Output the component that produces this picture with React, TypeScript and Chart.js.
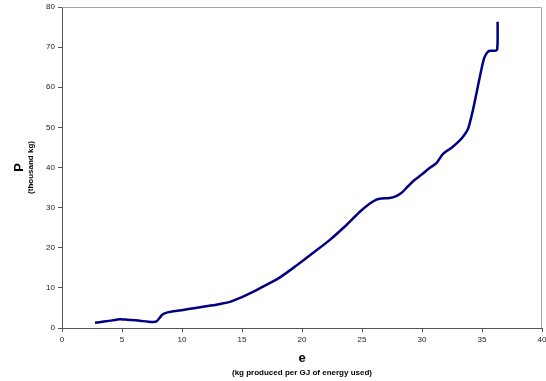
import React, { useEffect, useRef } from "react";
import { Chart, registerables } from "chart.js";

Chart.register(...registerables);

// Energy intensity e (kg produced per GJ) vs. cumulative production P (thousand kg)
const eValues = [
  2.75, 3.5, 4.2, 4.8, 5.3, 5.8, 6.5, 7.1, 7.6, 7.9, 8.1, 8.4, 8.8, 9.3, 10.1,
  11.0, 12.0, 13.2, 14.0, 15.0, 16.0, 16.75, 18.0, 19.6, 21.0, 22.3, 23.5,
  24.8, 25.6, 26.2, 26.6, 27.3, 27.8, 28.3, 28.7, 29.3, 30.0, 30.6, 31.2,
  31.75, 32.5, 33.0, 33.4, 33.8, 34.0, 34.25, 34.6, 35.0, 35.2, 35.5, 35.8,
  36.1, 36.25, 36.3, 36.3,
];
const pValues = [
  1.3, 1.6, 1.9, 2.2, 2.1, 2.0, 1.8, 1.6, 1.5, 1.7, 2.4, 3.4, 3.9, 4.2, 4.5,
  4.9, 5.4, 6.0, 6.5, 7.7, 9.1, 10.3, 12.3, 15.7, 18.9, 21.9, 25.1,
  28.9, 30.9, 32.0, 32.3, 32.4, 32.8, 33.7, 34.9, 36.7, 38.3, 39.8, 41.1,
  43.4, 45.0, 46.3, 47.6, 49.4, 51.3, 54.4, 59.4, 65.1, 67.4, 68.9, 69.1,
  69.1, 69.3, 71.5, 76.3,
];
const xTicks = [0, 5, 10, 15, 20, 25, 30, 35, 40];
const yTicks = [0, 10, 20, 30, 40, 50, 60, 70, 80];

const xTitle = "e";
const xSubtitle = "(kg produced per GJ of energy used)";
const yTitle = "P";
const ySubtitle = "(thousand kg)";

const FONT = "Arial, 'Liberation Sans', sans-serif";

export default function App() {
  const canvasRef = useRef<HTMLCanvasElement | null>(null);

  useEffect(() => {
    document.body.style.margin = "0";
    const canvas = canvasRef.current;
    if (!canvas) return;

    const points = eValues.map((e, i) => ({ x: e, y: pValues[i] }));

    const frameAndTitles = {
      id: "frameAndTitles",
      beforeDatasetsDraw(chart: any) {
        const { ctx, chartArea } = chart;
        ctx.save();
        ctx.strokeStyle = "#a6a6a6";
        ctx.lineWidth = 1;
        ctx.beginPath();
        ctx.moveTo(chartArea.left, chartArea.top + 0.5);
        ctx.lineTo(chartArea.right - 0.5, chartArea.top + 0.5);
        ctx.lineTo(chartArea.right - 0.5, chartArea.bottom);
        ctx.stroke();
        ctx.restore();
      },
      afterDraw(chart: any) {
        const { ctx, chartArea } = chart;
        const cx = (chartArea.left + chartArea.right) / 2;
        const cy = (chartArea.top + chartArea.bottom) / 2;
        ctx.save();
        ctx.fillStyle = "#000";
        ctx.textAlign = "center";
        ctx.textBaseline = "middle";
        ctx.font = `bold 13px ${FONT}`;
        ctx.fillText(xTitle, cx, 358);
        ctx.font = `bold 8px ${FONT}`;
        ctx.fillText(xSubtitle, cx, 373);

        ctx.translate(19, cy);
        ctx.rotate(-Math.PI / 2);
        ctx.font = `bold 13px ${FONT}`;
        ctx.fillText(yTitle, 0, 0);
        ctx.font = `bold 8px ${FONT}`;
        ctx.fillText(ySubtitle, 0, 12);
        ctx.restore();
      },
    };

    const chart = new Chart(canvas, {
      type: "scatter",
      data: {
        datasets: [
          {
            data: points,
            showLine: true,
            borderColor: "#000080",
            borderWidth: 2.5,
            pointRadius: 0,
            tension: 0.3,
            fill: false,
          },
        ],
      },
      options: {
        responsive: false,
        animation: false,
        layout: { padding: { top: 7, right: 4, left: 0, bottom: 0 } },
        plugins: {
          legend: { display: false },
          tooltip: { enabled: false },
          title: { display: false },
        },
        scales: {
          x: {
            type: "linear",
            min: 0,
            max: 40,
            afterFit(scale: any) {
              scale.height = 53;
              scale.paddingLeft = 0;
              scale.paddingRight = 0;
            },
            afterBuildTicks(scale: any) {
              scale.ticks = xTicks.map((v) => ({ value: v }));
            },
            grid: {
              drawOnChartArea: false,
              drawTicks: true,
              tickLength: 4,
              color: "#555",
            },
            border: { color: "#555", width: 1 },
            ticks: {
              color: "#222",
              font: { family: FONT, size: 8 },
              padding: 3,
              maxRotation: 0,
            },
          },
          y: {
            type: "linear",
            min: 0,
            max: 80,
            afterFit(scale: any) {
              scale.width = 62;
              scale.paddingTop = 0;
              scale.paddingBottom = 0;
            },
            afterBuildTicks(scale: any) {
              scale.ticks = yTicks.map((v) => ({ value: v }));
            },
            grid: {
              drawOnChartArea: false,
              drawTicks: true,
              tickLength: 4,
              color: "#555",
            },
            border: { color: "#555", width: 1 },
            ticks: {
              color: "#222",
              font: { family: FONT, size: 8 },
              padding: 3,
            },
          },
        },
      },
      plugins: [frameAndTitles],
    });

    return () => chart.destroy();
  }, []);

  return <canvas ref={canvasRef} width={546} height={381} style={{ display: "block" }} />;
}
